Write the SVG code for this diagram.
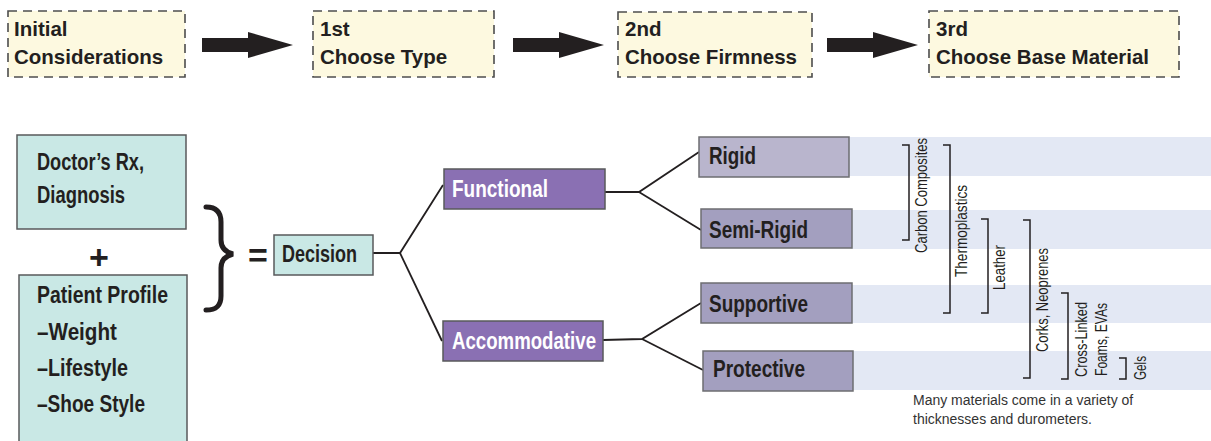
<svg xmlns="http://www.w3.org/2000/svg" width="1211" height="441" viewBox="0 0 1211 441">
<style>
.step{fill:#fdf9e0;stroke:#4d4d4d;stroke-width:1.6;stroke-dasharray:9 6}
.stept{font-family:"Liberation Sans",Arial,sans-serif;font-weight:bold;font-size:20.5px;fill:#231f20}
.teal{fill:#c9e8e5;stroke:#58595b;stroke-width:1.5}
.purp{fill:#8a70b3;stroke:#58595b;stroke-width:1.5}
.lav1{fill:#b9b5cd;stroke:#6d6e71;stroke-width:1.5}
.lav2{fill:#a39fbf;stroke:#6d6e71;stroke-width:1.5}
.band{fill:#e3e8f4}
.bt{font-family:"Liberation Sans",Arial,sans-serif;font-weight:bold;font-size:23px;fill:#231f20}
.sym{font-family:"Liberation Sans",Arial,sans-serif;font-weight:bold;font-size:34px;fill:#231f20}
.wt{fill:#ffffff}
.vt{font-family:"Liberation Sans",Arial,sans-serif;font-size:16px;fill:#231f20}
.note{font-family:"Liberation Sans",Arial,sans-serif;font-size:14px;fill:#333333}
.conn{fill:none;stroke:#231f20;stroke-width:1.8}
.brk{fill:none;stroke:#231f20;stroke-width:1.5}
.arrow{fill:#231f20}
</style>
<defs>
<path id="bigArrow" d="M0,-7 L46,-7 L46,-13 L91,0 L46,13 L46,7 L0,7 Z"/>
</defs>

<!-- Top process row -->
<g id="step-initial">
<rect class="step" x="8" y="11" width="177" height="66"/>
<text class="stept" x="14" y="36">Initial</text>
<text class="stept" x="14" y="64">Considerations</text>
</g>
<g id="step-1st">
<rect class="step" x="313" y="11" width="181" height="66"/>
<text class="stept" x="320" y="36">1st</text>
<text class="stept" x="320" y="64">Choose Type</text>
</g>
<g id="step-2nd">
<rect class="step" x="618" y="12" width="194" height="65"/>
<text class="stept" x="625" y="36">2nd</text>
<text class="stept" x="625" y="64">Choose Firmness</text>
</g>
<g id="step-3rd">
<rect class="step" x="929" y="11" width="250" height="66"/>
<text class="stept" x="936" y="36">3rd</text>
<text class="stept" x="936" y="64">Choose Base Material</text>
</g>

<!-- Bands -->
<g id="bands">
<rect class="band" x="849" y="137" width="362" height="39"/>
<rect class="band" x="851" y="210" width="360" height="39"/>
<rect class="band" x="851" y="285" width="360" height="38"/>
<rect class="band" x="853" y="351" width="358" height="39"/>
</g>

<!-- Connectors -->
<g id="connectors">
<use href="#bigArrow" class="arrow" transform="translate(202,45)"/>
<use href="#bigArrow" class="arrow" transform="translate(513,45)"/>
<use href="#bigArrow" class="arrow" transform="translate(827,45)"/>
<polyline class="conn" points="373,253 400,253 443,185"/>
<polyline class="conn" points="400,253 442,341"/>
<polyline class="conn" points="605,192 639,192 699,152"/>
<polyline class="conn" points="639,192 701,230"/>
<polyline class="conn" points="603,340 642,339 701,303"/>
<polyline class="conn" points="642,339 703,370"/>
</g>

<!-- Left inputs -->
<g id="doctor-rx">
<rect class="teal" x="17" y="135" width="169" height="94"/>
<text class="bt" x="37" y="170" textLength="107" lengthAdjust="spacingAndGlyphs">Doctor’s Rx,</text>
<text class="bt" x="37" y="203" textLength="88" lengthAdjust="spacingAndGlyphs">Diagnosis</text>
</g>
<g id="plus">
<text class="sym" x="99" y="269" text-anchor="middle">+</text>
</g>
<g id="patient-profile">
<rect class="teal" x="19" y="275" width="168" height="175"/>
<text class="bt" x="37" y="303" textLength="131" lengthAdjust="spacingAndGlyphs">Patient Profile</text>
<text class="bt" x="37" y="340" textLength="80" lengthAdjust="spacingAndGlyphs">–Weight</text>
<text class="bt" x="37" y="376" textLength="91" lengthAdjust="spacingAndGlyphs">–Lifestyle</text>
<text class="bt" x="37" y="412" textLength="108" lengthAdjust="spacingAndGlyphs">–Shoe Style</text>
</g>
<g id="brace">
<path d="M206,207 C216,207 221,212 221,222 L221,240 C221,248 225,252 233,254 C225,256 221,260 221,268 L221,296 C221,306 216,310 206,310" fill="none" stroke="#231f20" stroke-width="5" stroke-linecap="round"/>
</g>
<g id="equals">
<text class="sym" x="258" y="267" text-anchor="middle">=</text>
</g>

<g id="decision">
<rect class="teal" x="274" y="235" width="99" height="40"/>
<text class="bt" x="282" y="262" textLength="75" lengthAdjust="spacingAndGlyphs">Decision</text>
</g>
<g id="functional">
<rect class="purp" x="444" y="169" width="161" height="40"/>
<text class="bt wt" x="452" y="197" textLength="96" lengthAdjust="spacingAndGlyphs">Functional</text>
</g>
<g id="accommodative">
<rect class="purp" x="443" y="321" width="160" height="40"/>
<text class="bt wt" x="452" y="349" textLength="144" lengthAdjust="spacingAndGlyphs">Accommodative</text>
</g>
<g id="rigid">
<rect class="lav1" x="699" y="137" width="150" height="40"/>
<text class="bt" x="709" y="164" textLength="47" lengthAdjust="spacingAndGlyphs">Rigid</text>
</g>
<g id="semi-rigid">
<rect class="lav2" x="701" y="209" width="151" height="39"/>
<text class="bt" x="709" y="238" textLength="99" lengthAdjust="spacingAndGlyphs">Semi-Rigid</text>
</g>
<g id="supportive">
<rect class="lav2" x="701" y="283" width="151" height="40"/>
<text class="bt" x="709" y="312" textLength="99" lengthAdjust="spacingAndGlyphs">Supportive</text>
</g>
<g id="protective">
<rect class="lav2" x="703" y="351" width="150" height="40"/>
<text class="bt" x="713" y="377" textLength="92" lengthAdjust="spacingAndGlyphs">Protective</text>
</g>

<!-- Materials -->
<g id="mat-carbon">
<polyline class="brk" points="902,145 909,145 909,240 902,240"/>
<text class="vt" transform="translate(927,253) rotate(-90)" textLength="115" lengthAdjust="spacingAndGlyphs">Carbon Composites</text>
</g>
<g id="mat-thermo">
<polyline class="brk" points="943,145 950,145 950,313 943,313"/>
<text class="vt" transform="translate(967,277) rotate(-90)" textLength="92" lengthAdjust="spacingAndGlyphs">Thermoplastics</text>
</g>
<g id="mat-leather">
<polyline class="brk" points="981,219 988,219 988,313 981,313"/>
<text class="vt" transform="translate(1005,290) rotate(-90)" textLength="45" lengthAdjust="spacingAndGlyphs">Leather</text>
</g>
<g id="mat-corks">
<polyline class="brk" points="1023,220 1030,220 1030,378 1023,378"/>
<text class="vt" transform="translate(1048,352) rotate(-90)" textLength="104" lengthAdjust="spacingAndGlyphs">Corks, Neoprenes</text>
</g>
<g id="mat-foams">
<polyline class="brk" points="1061,293 1068,293 1068,379 1061,379"/>
<text class="vt" transform="translate(1087,377) rotate(-90)" textLength="75" lengthAdjust="spacingAndGlyphs">Cross-Linked</text>
<text class="vt" transform="translate(1107,376) rotate(-90)" textLength="73" lengthAdjust="spacingAndGlyphs">Foams, EVAs</text>
</g>
<g id="mat-gels">
<polyline class="brk" points="1119,358 1126,358 1126,379 1119,379"/>
<text class="vt" transform="translate(1146,380) rotate(-90)" textLength="24" lengthAdjust="spacingAndGlyphs">Gels</text>
</g>

<g id="note">
<text class="note" x="913" y="405">Many materials come in a variety of</text>
<text class="note" x="913" y="424">thicknesses and durometers.</text>
</g>
</svg>
